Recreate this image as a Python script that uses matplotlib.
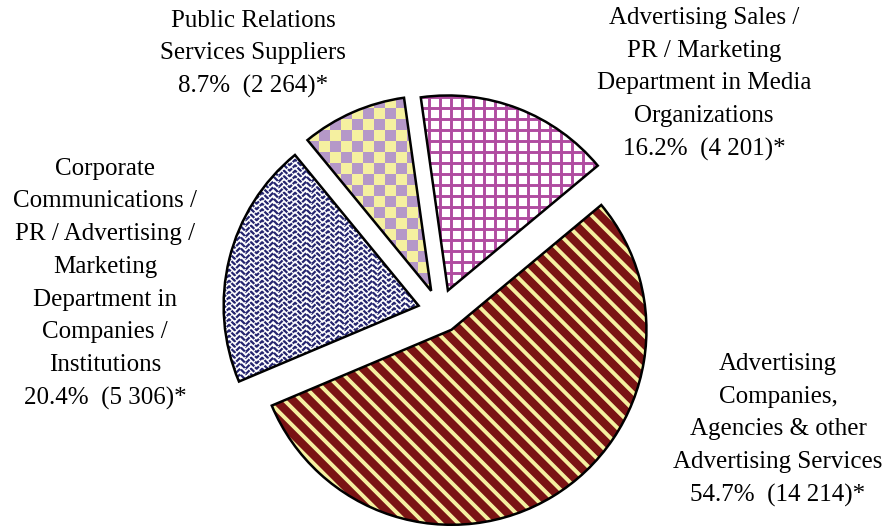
import numpy as np
import matplotlib
matplotlib.use("Agg")
import matplotlib.pyplot as plt
from matplotlib.collections import LineCollection, PatchCollection
from matplotlib.patches import Wedge, Rectangle

# ---------------- data ----------------
categories = [
    "Advertising Sales /\nPR / Marketing\nDepartment in Media\nOrganizations",
    "Advertising\nCompanies,\nAgencies & other\nAdvertising Services",
    "Corporate\nCommunications /\nPR / Advertising /\nMarketing\nDepartment in\nCompanies /\nInstitutions",
    "Public Relations\nServices Suppliers",
]
counts = [4201, 14214, 5306, 2264]
count_labels = ["4 201", "14 214", "5 306", "2 264"]
percents = [16.2, 54.7, 20.4, 8.7]

# ---------------- style ----------------
W, H = 884, 526
MAGENTA = "#B04CA0"
LAVENDER = "#B598C8"
YELLOW = "#F5F0A0"
NAVY = "#25256F"
DARKRED = "#7A1414"
bg_colors = ["white", DARKRED, "white", YELLOW]

fig = plt.figure(figsize=(W / 100, H / 100), dpi=100)
ax = fig.add_axes([0, 0, 1, 1])
R = 195
center = (440, H - 311)
wedges, _ = ax.pie(counts, startangle=98, counterclock=False, radius=R,
                   center=center, explode=[22] * len(counts),
                   colors=bg_colors, wedgeprops=dict(linewidth=0))
ax.set_xlim(0, W)
ax.set_ylim(0, H)
ax.set_aspect("equal")
ax.axis("off")


def add_clipped(coll, w):
    coll.set_zorder(2)
    ax.add_collection(coll)
    coll.set_clip_path(w)


def grid_pattern(w, s, color, lw):
    cx, cy = w.center
    r = w.r
    xs = np.arange(np.floor((cx - r) / s) * s, cx + r + s, s)
    ys = np.arange(np.floor((cy - r) / s) * s, cy + r + s, s)
    segs = [[(x, cy - r), (x, cy + r)] for x in xs] + \
           [[(cx - r, y), (cx + r, y)] for y in ys]
    add_clipped(LineCollection(segs, colors=color, linewidths=lw), w)


def checker_pattern(w, s, color):
    cx, cy = w.center
    r = w.r
    i0, i1 = int(np.floor((cx - r) / s)), int(np.ceil((cx + r) / s))
    j0, j1 = int(np.floor((cy - r) / s)), int(np.ceil((cy + r) / s))
    rects = [Rectangle((i * s, j * s), s, s)
             for i in range(i0, i1) for j in range(j0, j1) if (i + j) % 2 == 0]
    pc = PatchCollection(rects, facecolor=color, edgecolor="none", linewidth=0)
    add_clipped(pc, w)


def stripe_pattern(w, period, angle_deg, color, lw):
    cx, cy = w.center
    r = w.r
    a = np.deg2rad(angle_deg)
    d = np.array([np.cos(a), np.sin(a)])
    n = np.array([-np.sin(a), np.cos(a)])
    N = int(r / period) + 2
    segs = []
    for k in range(-N, N + 1):
        p0 = np.array([cx, cy]) + k * period * n
        segs.append([p0 - 1.2 * r * d, p0 + 1.2 * r * d])
    add_clipped(LineCollection(segs, colors=color, linewidths=lw), w)


def zigzag_pattern(w, wave, amp, rowgap, color, lw):
    cx, cy = w.center
    r = w.r
    xs = np.arange(cx - r - wave, cx + r + wave, wave / 2)
    segs = []
    for y in np.arange(cy - r - rowgap, cy + r + rowgap, rowgap):
        ys = y + amp * (np.arange(len(xs)) % 2)
        segs.append(np.column_stack([xs, ys]))
    lc = LineCollection(segs, colors=color, linewidths=lw,
                        linestyles=[(0, (2.5, 0.5))])
    add_clipped(lc, w)


grid_pattern(wedges[0], 11, MAGENTA, 2.1)
stripe_pattern(wedges[1], 12, -45, YELLOW, 2.8)
zigzag_pattern(wedges[2], 11, 5.5, 5.5, NAVY, 1.6)
checker_pattern(wedges[3], 11, LAVENDER)

for w in wedges:
    ax.add_patch(Wedge(w.center, w.r, w.theta1, w.theta2, fill=False,
                       edgecolor="black", linewidth=1.8, zorder=3))

# ---------------- labels ----------------
label_pos = [(704, H - 84), (778, H - 430), (105, H - 284), (253, H - 54)]
for cat, pct, cl, (x, y) in zip(categories, percents, count_labels, label_pos):
    txt = f"{cat}\n{pct:.1f}%  ({cl})*"
    ax.text(x, y, txt, ha="center", va="center", multialignment="center",
            fontsize=18, family="Liberation Serif", linespacing=1.63,
            color="black")

fig.savefig("out.png", dpi=100)
